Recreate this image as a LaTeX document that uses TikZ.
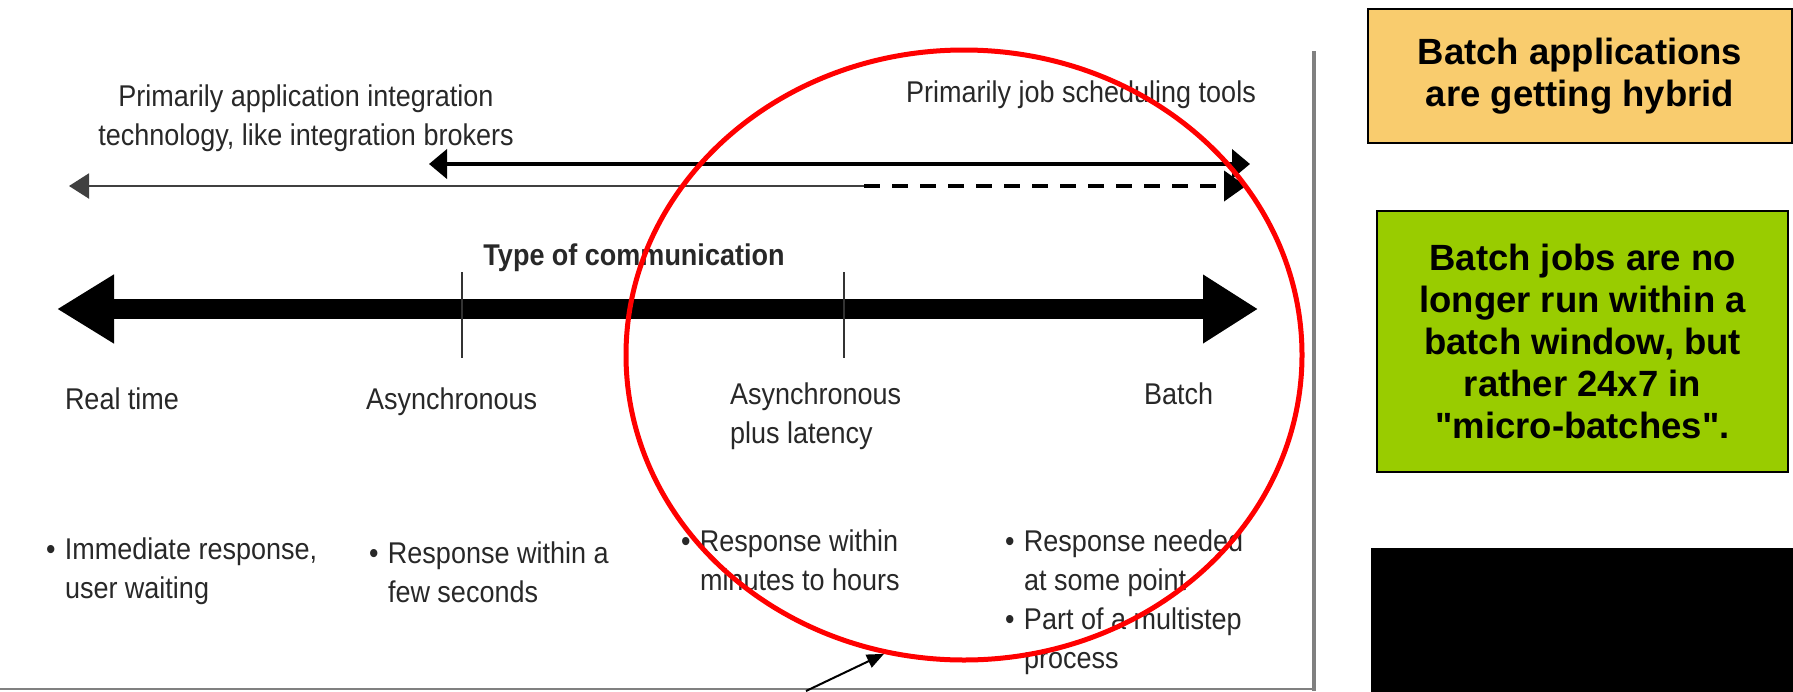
\documentclass[tikz,border=0pt]{standalone}
\usepackage{fontspec}
\setmainfont{Liberation Sans}
\newfontfamily\narrowsans{Liberation Sans}[FakeStretch=0.9]
\usetikzlibrary{arrows.meta,shapes.geometric}

\definecolor{inktext}{RGB}{40,40,40}
\definecolor{noteorange}{RGB}{249,204,110}
\definecolor{notegreen}{RGB}{153,204,0}
\definecolor{framegray}{RGB}{128,128,128}
\definecolor{ringred}{RGB}{255,0,0}

\newcommand{\bulletmark}{\makebox[19pt][l]{\textbullet}}
\newcommand{\bulletgap}{\hspace*{19pt}}

\begin{document}
\begin{tikzpicture}[x=1pt,y=-1pt,
  diagtext/.style={font=\narrowsans\fontsize{30pt}{39pt}\selectfont, text=inktext, inner sep=0pt, outer sep=0pt},
  titletext/.style={font=\narrowsans\bfseries\fontsize{30pt}{39pt}\selectfont, text=inktext, inner sep=0pt},
  notebox/.style={draw=black, line width=2pt, inner sep=0pt, align=center,
    font=\bfseries\fontsize{36.5pt}{42pt}\selectfont},
  thinline/.style={draw=black!75, line width=2pt},
  tickmark/.style={draw=black!80, line width=2pt},
]
\useasboundingbox (0,0) rectangle (1793,691);

% ---------- notes on the right ----------
\node[notebox, fill=noteorange, minimum width=424pt, minimum height=134pt] (hybrid) at (1580,76)
  {Batch applications\\are getting hybrid};
\node[notebox, fill=notegreen, minimum width=411pt, minimum height=261pt] (micro) at (1582.5,341.5)
  {Batch jobs are no\\longer run within a\\batch window, but\\rather 24x7 in\\\textquotedbl micro-batches\textquotedbl.};
\node[draw=black, line width=1pt, fill=black, inner sep=0pt,
  minimum width=422pt, minimum height=143pt] (blank) at (1582,619.5) {};

% ---------- frame of the figure ----------
\coordinate (frameTop) at (1314,51);
\coordinate (frameBot) at (1314,691);
\coordinate (frameLeft) at (0,689);
\coordinate (frameCorner) at (1314,689);
\draw[framegray, line width=4pt] (frameTop) -- (frameBot);
\draw[framegray, line width=2pt] (frameLeft) -- (frameCorner);

% ---------- upper scope arrows (multi-line nodes sit on their last baseline) ----------
\node[diagtext, align=center, anchor=base] (integ) at (306,145)
  {Primarily application integration\\technology, like integration brokers};
\node[diagtext, anchor=base] (sched) at (1081,102) {Primarily job scheduling tools};

\coordinate (solL) at (429,164);
\coordinate (solR) at (1250,164);
\draw[line width=4pt, {Triangle[length=18pt,width=29pt]}-{Triangle[length=18pt,width=29pt]}] (solL) -- (solR);

\coordinate (thinL) at (69,186);
\coordinate (dashS) at (864,186);
\coordinate (thinR) at (1246,186);
\draw[thinline, {Triangle[length=20pt,width=25pt]}-] (thinL) -- (dashS);
\draw[line width=4pt, dash pattern=on 16pt off 12pt, -{Triangle[length=22pt,width=30pt]}] (dashS) -- (thinR);

% ---------- main axis ----------
\node[titletext, anchor=base] (title) at (634,265) {Type of communication};
\coordinate (mainL) at (57,309);
\coordinate (mainR) at (1258,309);
\draw[line width=20pt, {Triangle[length=57pt,width=65pt]}-{Triangle[length=55pt,width=65pt]}] (mainL) -- (mainR);

\coordinate (tickAtop) at (462,272);
\coordinate (tickAbot) at (462,358);
\coordinate (tickBtop) at (844,272);
\coordinate (tickBbot) at (844,358);
\draw[tickmark] (tickAtop) -- (tickAbot);
\draw[tickmark] (tickBtop) -- (tickBbot);

% ---------- categories ----------
\node[diagtext, anchor=base west] (realtime) at (65,409) {Real time};
\node[diagtext, anchor=base west] (async) at (366,409) {Asynchronous};
\node[diagtext, anchor=base west, align=left] (asynclat) at (730,443) {Asynchronous\\plus latency};
\node[diagtext, anchor=base west] (batch) at (1144,404) {Batch};

% ---------- response characteristics ----------
\node[diagtext, anchor=base west, align=left] (resp1) at (46,598)
  {\bulletmark Immediate response,\\\bulletgap user waiting};
\node[diagtext, anchor=base west, align=left] (resp2) at (369,602)
  {\bulletmark Response within a\\\bulletgap few seconds};
\node[diagtext, anchor=base west, align=left] (resp3) at (681,590)
  {\bulletmark Response within\\\bulletgap minutes to hours};
\node[diagtext, anchor=base west, align=left] (resp4) at (1005,668)
  {\bulletmark Response needed\\\bulletgap at some point\\\bulletmark Part of a multistep\\\bulletgap process};

% ---------- highlight ring and pointer ----------
\node[ellipse, draw=ringred, line width=5pt, inner sep=0pt,
  minimum width=676pt, minimum height=610pt] (ring) at (964,355) {};
\coordinate (pointerTail) at (806,691);
\draw[line width=2pt, -{Triangle[length=17pt,width=14pt]}] (pointerTail) -- (ring.255);
\end{tikzpicture}
\end{document}
